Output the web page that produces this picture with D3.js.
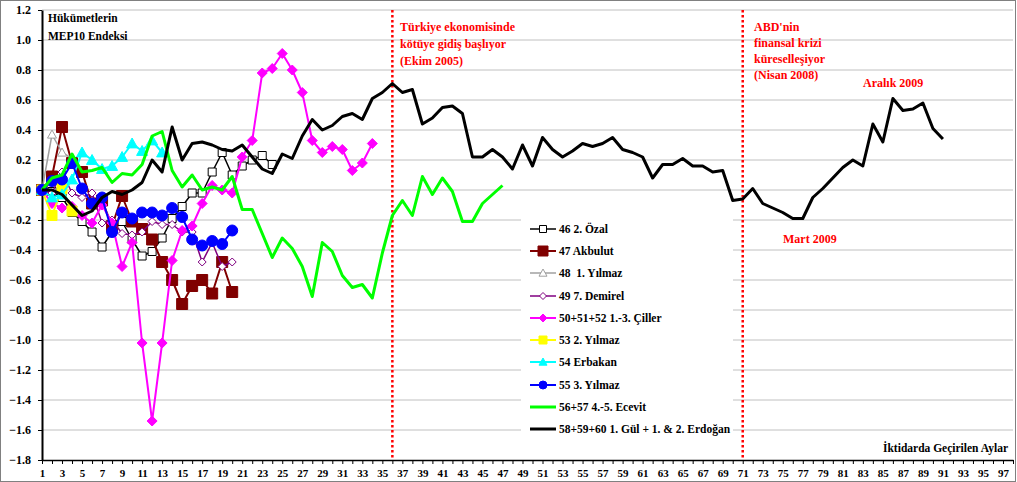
<!DOCTYPE html>
<html lang="tr">
<head>
<meta charset="UTF-8">
<title>MEP10 Endeksi</title>
<script src="https://cdnjs.cloudflare.com/ajax/libs/d3/7.8.5/d3.min.js"></script>
<style>
    body { margin: 0; background: #fff; }
    svg { display: block; font-family: 'Liberation Serif', 'Times New Roman', serif; font-weight: bold; }
    .grid line { stroke: #c0c0c0; stroke-width: 1; }
    .axis path, .axis line { stroke: #000; }
    .axis text { font-family: 'Liberation Serif', serif; font-weight: bold; fill: #000; }
    .legend text { white-space: pre; }
</style>
</head>
<body>
<div id="chart"></div>
<script>
// months in office (x) and index values per government
const months = d3.range(1, 99);
const yTicks = d3.range(-18, 13, 2).map(d => d / 10);

const ozal     = [0, -0.01, -0.05, -0.15, -0.21, -0.28, -0.38, -0.28, -0.21, -0.33, -0.44, -0.41, -0.32, -0.19, -0.11, -0.02, -0.02, 0.12, 0.25, 0.10, 0.16, 0.20, 0.23, 0.17];
const akbulut  = [0, 0.09, 0.42, 0.18, 0.12, -0.09, -0.07, -0.24, -0.04, -0.21, -0.26, -0.33, -0.48, -0.60, -0.76, -0.64, -0.60, -0.69, -0.48, -0.68];
const yilmaz1  = [0, 0.37, 0.25, 0.21];
const demirel  = [0, -0.02, 0.12, -0.02, -0.05, -0.02, -0.22, -0.20, -0.29, -0.30, -0.28, -0.21, -0.23, -0.23, -0.28, -0.28, -0.48, -0.35, -0.51, -0.48];
const ciller   = [0, -0.09, -0.12, -0.11, -0.17, -0.22, -0.10, -0.22, -0.51, -0.35, -1.02, -1.54, -1.02, -0.47, -0.27, -0.24, -0.09, 0.03, 0.00, -0.02, 0.22, 0.33, 0.78, 0.81, 0.91, 0.80, 0.65, 0.33, 0.25, 0.29, 0.27, 0.13, 0.18, 0.31];
const yilmaz2  = [0, -0.17, 0.01, -0.14];
const erbakan  = [0, -0.05, -0.03, 0.07, 0.25, 0.20, 0.14, 0.16, 0.22, 0.31, 0.26, 0.33, 0.25];
const yilmaz3  = [0, 0.06, 0.07, 0.18, 0.01, -0.09, -0.05, -0.28, -0.15, -0.19, -0.15, -0.15, -0.17, -0.12, -0.18, -0.33, -0.37, -0.34, -0.36, -0.27];
const ecevit   = [0, 0.08, 0.10, 0.24, 0.12, 0.13, 0.15, 0.05, 0.11, 0.10, 0.17, 0.36, 0.39, 0.13, 0.02, 0.10, 0.00, 0.02, 0.00, 0.09, -0.13, -0.13, -0.29, -0.45, -0.32, -0.39, -0.51, -0.71, -0.35, -0.41, -0.57, -0.65, -0.63, -0.72, -0.42, -0.17, -0.07, -0.17, 0.09, -0.03, 0.08, -0.01, -0.21, -0.21, -0.09, -0.03, 0.03];
const erdogan  = [0, 0.00, -0.03, -0.10, -0.17, -0.14, -0.05, -0.01, -0.03, 0.00, 0.05, 0.20, 0.12, 0.42, 0.20, 0.31, 0.32, 0.30, 0.27, 0.26, 0.30, 0.22, 0.14, 0.11, 0.24, 0.21, 0.36, 0.47, 0.40, 0.43, 0.49, 0.51, 0.47, 0.61, 0.65, 0.71, 0.65, 0.67, 0.44, 0.48, 0.55, 0.56, 0.51, 0.22, 0.22, 0.27, 0.22, 0.14, 0.30, 0.16, 0.35, 0.27, 0.22, 0.26, 0.31, 0.29, 0.31, 0.35, 0.27, 0.25, 0.22, 0.08, 0.17, 0.17, 0.21, 0.16, 0.16, 0.12, 0.13, -0.07, -0.06, 0.01, -0.09, -0.12, -0.15, -0.19, -0.19, -0.05, 0.01, 0.08, 0.15, 0.20, 0.16, 0.44, 0.32, 0.61, 0.53, 0.54, 0.58, 0.41, 0.34];

const seriesNames = ["46 2. Özal", "47 Akbulut", "48  1. Yılmaz", "49 7. Demirel", "50+51+52 1.-3. Çiller", "53 2. Yılmaz", "54 Erbakan", "55 3. Yılmaz", "56+57 4.-5. Ecevit", "58+59+60 1. Gül + 1. & 2. Erdoğan"];
const seriesValues = [ozal, akbulut, yilmaz1, demirel, ciller, yilmaz2, erbakan, yilmaz3, ecevit, erdogan];

const crisisMonths = [36, 71];

const styles = [
    { color: "#000000", width: 1.5, marker: "square", size: 8, fill: "#fff" },
    { color: "#800000", width: 2, marker: "square", size: 11, fill: "#800000" },
    { color: "#a0a0a0", width: 1.5, marker: "triangle", size: 9, fill: "#fff" },
    { color: "#800080", width: 1.5, marker: "diamond", size: 8, fill: "#fff" },
    { color: "#ff00ff", width: 2, marker: "diamond", size: 10, fill: "#ff00ff" },
    { color: "#ffff00", width: 2, marker: "square", size: 10, fill: "#ffff00" },
    { color: "#00ffff", width: 2, marker: "triangle", size: 11, fill: "#00ffff" },
    { color: "#0000ff", width: 2, marker: "circle", size: 11, fill: "#0000ff" },
    { color: "#00ff00", width: 3, marker: null },
    { color: "#000000", width: 3, marker: null }
];

const W = 1017, H = 482;
const svg = d3.select("#chart").append("svg").attr("width", W).attr("height", H);

svg.append("rect").attr("x", 0.5).attr("y", 0.5).attr("width", W - 2).attr("height", H - 1)
    .attr("fill", "#fff").attr("stroke", "#808080");

const x = d3.scaleLinear().domain([1, 98]).range([42, 1013]);
const y = d3.scaleLinear().domain([-1.8, 1.2]).range([460, 10]);

// gridlines
svg.append("g").attr("class", "grid")
    .selectAll("line").data(yTicks.slice(1)).join("line")
    .attr("x1", x(1)).attr("x2", x(98))
    .attr("y1", d => y(d)).attr("y2", d => y(d));

// axes
const xAxis = svg.append("g").attr("class", "axis")
    .attr("transform", `translate(0,${y(-1.8)})`)
    .call(d3.axisBottom(x).tickValues(months).tickSize(4).tickSizeOuter(0)
        .tickFormat(d => d % 2 === 1 ? d : ""));
xAxis.selectAll("text").attr("font-size", 11).attr("dy", "0.95em");
xAxis.select(".domain").attr("stroke-width", 1.5);

const yAxis = svg.append("g").attr("class", "axis")
    .attr("transform", `translate(${x(1)},0)`)
    .call(d3.axisLeft(y).tickValues(yTicks).tickSize(4).tickSizeOuter(0).tickFormat(d3.format(".1f")));
yAxis.selectAll("text").attr("font-size", 12).attr("dx", "-4");
yAxis.select(".domain").attr("stroke-width", 2);

// crisis markers
svg.append("g").selectAll("line").data(crisisMonths).join("line")
    .attr("x1", d => x(d)).attr("x2", d => x(d))
    .attr("y1", y(1.2)).attr("y2", y(-1.8))
    .attr("stroke", "#ff0000").attr("stroke-width", 2.5).attr("stroke-dasharray", "2.5,2.5");

const line = d3.line().x((d, i) => x(i + 1)).y(d => y(d));

function markerPath(type, size) {
    const s = size / 2;
    if (type === "square") return `M${-s},${-s}H${s}V${s}H${-s}Z`;
    if (type === "diamond") return `M0,${-s}L${s},0L0,${s}L${-s},0Z`;
    if (type === "triangle") return `M0,${-s}L${s},${s * 0.8}L${-s},${s * 0.8}Z`;
    return d3.symbol(d3.symbolCircle, Math.PI * s * s)();
}

seriesValues.forEach((vals, k) => {
    const st = styles[k];
    const g = svg.append("g");
    g.append("path").datum(vals).attr("d", line)
        .attr("fill", "none").attr("stroke", st.color).attr("stroke-width", st.width)
        .attr("stroke-linejoin", "round");
    if (st.marker) {
        g.selectAll("path.m").data(vals).join("path").attr("class", "m")
            .attr("transform", (d, i) => `translate(${x(i + 1)},${y(d)})`)
            .attr("d", markerPath(st.marker, st.size))
            .attr("fill", st.fill).attr("stroke", st.color).attr("stroke-width", 1);
    }
});

// legend
const legend = svg.append("g").attr("class", "legend");
legend.append("rect").attr("x", 521).attr("y", 212).attr("width", 212).attr("height", 230).attr("fill", "#fff");
const legendY = [229, 251, 273, 296, 318, 340, 362, 385, 407, 429];
seriesNames.forEach((name, k) => {
    const st = styles[k];
    const ly = legendY[k];
    legend.append("line").attr("x1", 530).attr("x2", 556).attr("y1", ly).attr("y2", ly)
        .attr("stroke", st.color).attr("stroke-width", st.width);
    if (st.marker) {
        legend.append("path").attr("transform", `translate(543,${ly})`)
            .attr("d", markerPath(st.marker, Math.min(st.size, 9) - (k === 1 ? -1 : 1)))
            .attr("fill", st.fill).attr("stroke", st.color).attr("stroke-width", 1);
    }
    legend.append("text").attr("x", 559).attr("y", ly + 4).attr("font-size", 11.5).text(name);
});

// annotations
function label(lines, x0, y0, color, size, step) {
    const t = svg.append("text").attr("fill", color).attr("font-size", size);
    lines.forEach((s, i) => t.append("tspan").attr("x", x0).attr("y", y0 + i * step).text(s));
}
label(["Hükümetlerin", "MEP10 Endeksi"], 48, 22, "#000", 11.5, 18);
label(["Türkiye ekonomisinde", "kötüye gidiş başlıyor", "(Ekim 2005)"], 400, 31, "#ff0000", 12, 17);
label(["ABD'nin", "finansal krizi", "küreselleşiyor", "(Nisan 2008)"], 754, 31, "#ff0000", 12, 16);
label(["Aralık 2009"], 863, 87, "#ff0000", 12, 16);
label(["Mart 2009"], 783, 243, "#ff0000", 12, 16);
label(["İktidarda Geçirilen Aylar"], 883, 452, "#000", 11.5, 16);
</script>
</body>
</html>
